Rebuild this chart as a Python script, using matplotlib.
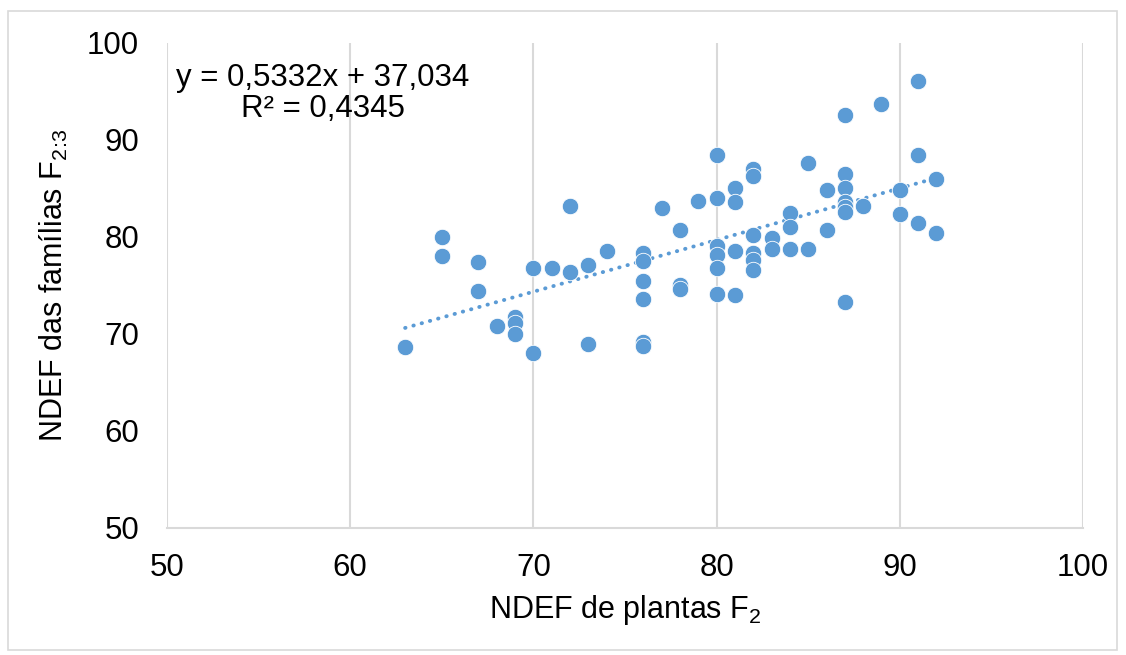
import numpy as np
import matplotlib.pyplot as plt
from matplotlib.patches import Rectangle

plt.rcParams['font.family'] = ['Liberation Sans', 'DejaVu Sans']

# NDEF plantas F2 (x) e familias F2:3 (y)
x_f2 = [63, 65, 65, 67, 67, 68, 69, 69, 69, 70, 70, 71, 72, 72, 73, 73, 74,
        76, 76, 76, 76, 76, 76, 77, 78, 78, 78, 79,
        80, 80, 80, 80, 80, 80, 81, 81, 81, 81,
        82, 82, 82, 82, 82, 82, 83, 83, 84, 84, 84, 85, 85, 86, 86,
        87, 87, 87, 87, 87, 87, 87, 88, 89, 90, 90, 91, 91, 91, 92, 92]
y_f23 = [68.7, 80.0, 78.0, 77.4, 74.4, 70.8, 71.7, 71.1, 70.0, 76.8, 68.0, 76.8, 83.2, 76.4, 77.1, 69.0, 78.6,
         78.3, 77.5, 75.5, 73.6, 69.2, 68.8, 83.0, 80.7, 75.1, 74.6, 83.7,
         88.4, 84.0, 79.1, 78.1, 76.8, 74.1, 85.0, 83.6, 78.6, 74.0,
         87.0, 86.3, 80.2, 78.3, 77.6, 76.6, 79.9, 78.8, 82.5, 81.0, 78.8, 87.6, 78.8, 84.8, 80.7,
         92.6, 86.5, 85.1, 83.6, 83.1, 82.6, 73.3, 83.2, 93.7, 84.8, 82.4, 96.1, 88.4, 81.4, 86.0, 80.4]

slope, intercept = 0.5332, 37.034
r2 = 0.4345

blue = '#5B9BD5'

fig = plt.figure(figsize=(11.26, 6.55), dpi=100)
ax = fig.add_axes([0.1483, 0.1939, 0.8135, 0.7405])

# linha de tendencia
xt = np.array([min(x_f2), max(x_f2)])
ax.plot(xt, slope * xt + intercept, color=blue, lw=2.8,
        linestyle=(0, (0.1, 2.1)), dash_capstyle='round', zorder=2)

ax.scatter(x_f2, y_f23, s=140, color=blue, edgecolors='white', linewidths=0.6, zorder=3)

ax.set_xlim(50, 100)
ax.set_ylim(50, 100)
ax.set_xticks(range(50, 101, 10))
ax.set_yticks(range(50, 101, 10))
ax.tick_params(length=0, labelsize=22.5)
ax.tick_params(axis='y', pad=20)
ax.tick_params(axis='x', pad=18)
ax.grid(axis='x', color='#D9D9D9', lw=1.5)
ax.set_axisbelow(True)
for s in ['top', 'right', 'left']:
    ax.spines[s].set_visible(False)
ax.spines['bottom'].set_color('#D9D9D9')
ax.spines['bottom'].set_linewidth(1.5)

ax.set_xlabel(r'NDEF de plantas F$\mathregular{_2}$', fontsize=22, labelpad=7)
ax.set_ylabel(r'NDEF das famílias F$\mathregular{_{2\!:\!3}}$', fontsize=22, labelpad=12)

ax.text(58.5, 94.8, 'y = 0,5332x + 37,034\nR² = 0,4345', fontsize=22.5,
        ha='center', va='center', multialignment='center', linespacing=1.05)

# moldura externa
fig.patches.append(Rectangle((0.007, 0.008), 0.985, 0.975, transform=fig.transFigure,
                             fill=False, edgecolor='#D9D9D9', lw=1.2))

fig.savefig('out.png', dpi=100)
